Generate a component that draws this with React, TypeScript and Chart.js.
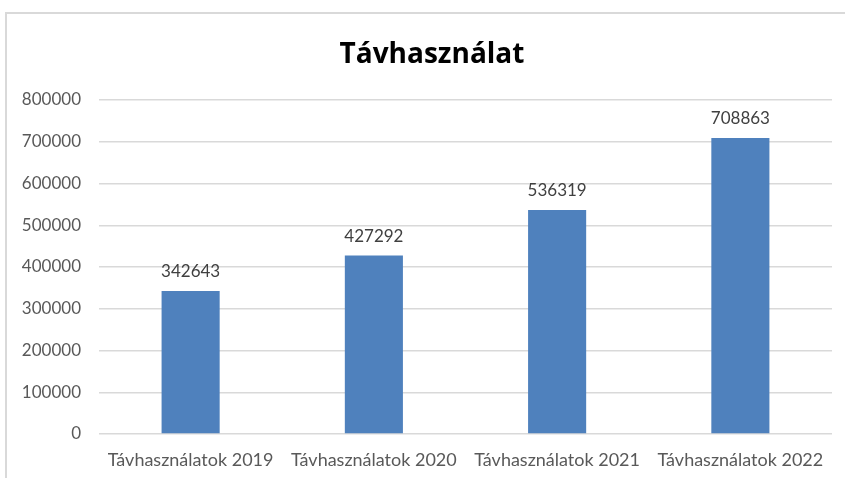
import React, { useEffect, useRef } from "react";
import { Chart, registerables } from "chart.js";

Chart.register(...registerables);

const categories = ["Távhasználatok 2019", "Távhasználatok 2020", "Távhasználatok 2021", "Távhasználatok 2022"];
const values = [342643, 427292, 536319, 708863];
const titleText = "Távhasználat";
const yMax = 800000;
const yStep = 100000;

const FONT = "Lato, 'Open Sans', sans-serif";

const dataLabelPlugin = {
  id: "dataLabels",
  afterDatasetsDraw(chart: any) {
    const ctx = chart.ctx;
    const meta = chart.getDatasetMeta(0);
    ctx.save();
    ctx.font = `17px ${FONT}`;
    ctx.fillStyle = "#404040";
    ctx.textAlign = "center";
    ctx.textBaseline = "alphabetic";
    meta.data.forEach((bar: any, i: number) => {
      ctx.fillText(String(values[i]), bar.x, bar.y - 14);
    });
    ctx.restore();
  },
};

// Title centred on the (partly cropped) chart box rather than on the canvas
const titlePlugin = {
  id: "boxTitle",
  afterDraw(chart: any) {
    const ctx = chart.ctx;
    ctx.save();
    ctx.font = `bold 28px 'Open Sans', Lato, sans-serif`;
    ctx.fillStyle = "#000000";
    ctx.textAlign = "center";
    ctx.textBaseline = "middle";
    ctx.fillText(titleText, chart.chartArea.left + 333, chart.chartArea.top - 45);
    ctx.restore();
  },
};

export default function App() {
  const ref = useRef<HTMLCanvasElement>(null);
  useEffect(() => {
    if (!ref.current) return;
    const chart = new Chart(ref.current, {
      type: "bar",
      data: {
        labels: categories,
        datasets: [
          {
            data: values,
            backgroundColor: "#4F81BD",
            categoryPercentage: 1,
            barPercentage: 0.317,
          },
        ],
      },
      options: {
        animation: false,
        responsive: false,
        maintainAspectRatio: false,
        layout: { padding: { top: 100, left: 21, right: 13, bottom: 6 } },
        plugins: {
          legend: { display: false },
          tooltip: { enabled: false },
          title: { display: false },
        },
        scales: {
          x: {
            grid: { display: false, drawTicks: false },
            border: { display: false },
            afterFit(scale: any) {
              scale.height = 38;
            },
            ticks: {
              color: "#595959",
              font: { family: FONT, size: 18, lineHeight: 1.2 },
              padding: 15,
              maxRotation: 0,
              autoSkip: false,
            },
          },
          y: {
            min: 0,
            max: yMax,
            afterFit(scale: any) {
              scale.width = 78;
            },
            grid: { color: "#D9D9D9", lineWidth: 1.5, drawTicks: false },
            border: { display: false },
            ticks: {
              stepSize: yStep,
              color: "#595959",
              font: { family: FONT, size: 17 },
              padding: 18,
              callback: (v: any) => String(v),
            },
          },
        },
      },
      plugins: [dataLabelPlugin, titlePlugin],
    });
    return () => chart.destroy();
  }, []);

  return (
    <div style={{ position: "fixed", left: 0, top: 0, width: 845, height: 478, overflow: "hidden", background: "#fff" }}>
      <div
        style={{
          position: "absolute",
          left: 5,
          top: 12,
          width: 900,
          height: 500,
          borderLeft: "2px solid #D9D9D9",
          borderTop: "2px solid #D9D9D9",
        }}
      />
      <canvas ref={ref} width={845} height={478} style={{ position: "absolute", left: 0, top: 0 }} />
    </div>
  );
}
